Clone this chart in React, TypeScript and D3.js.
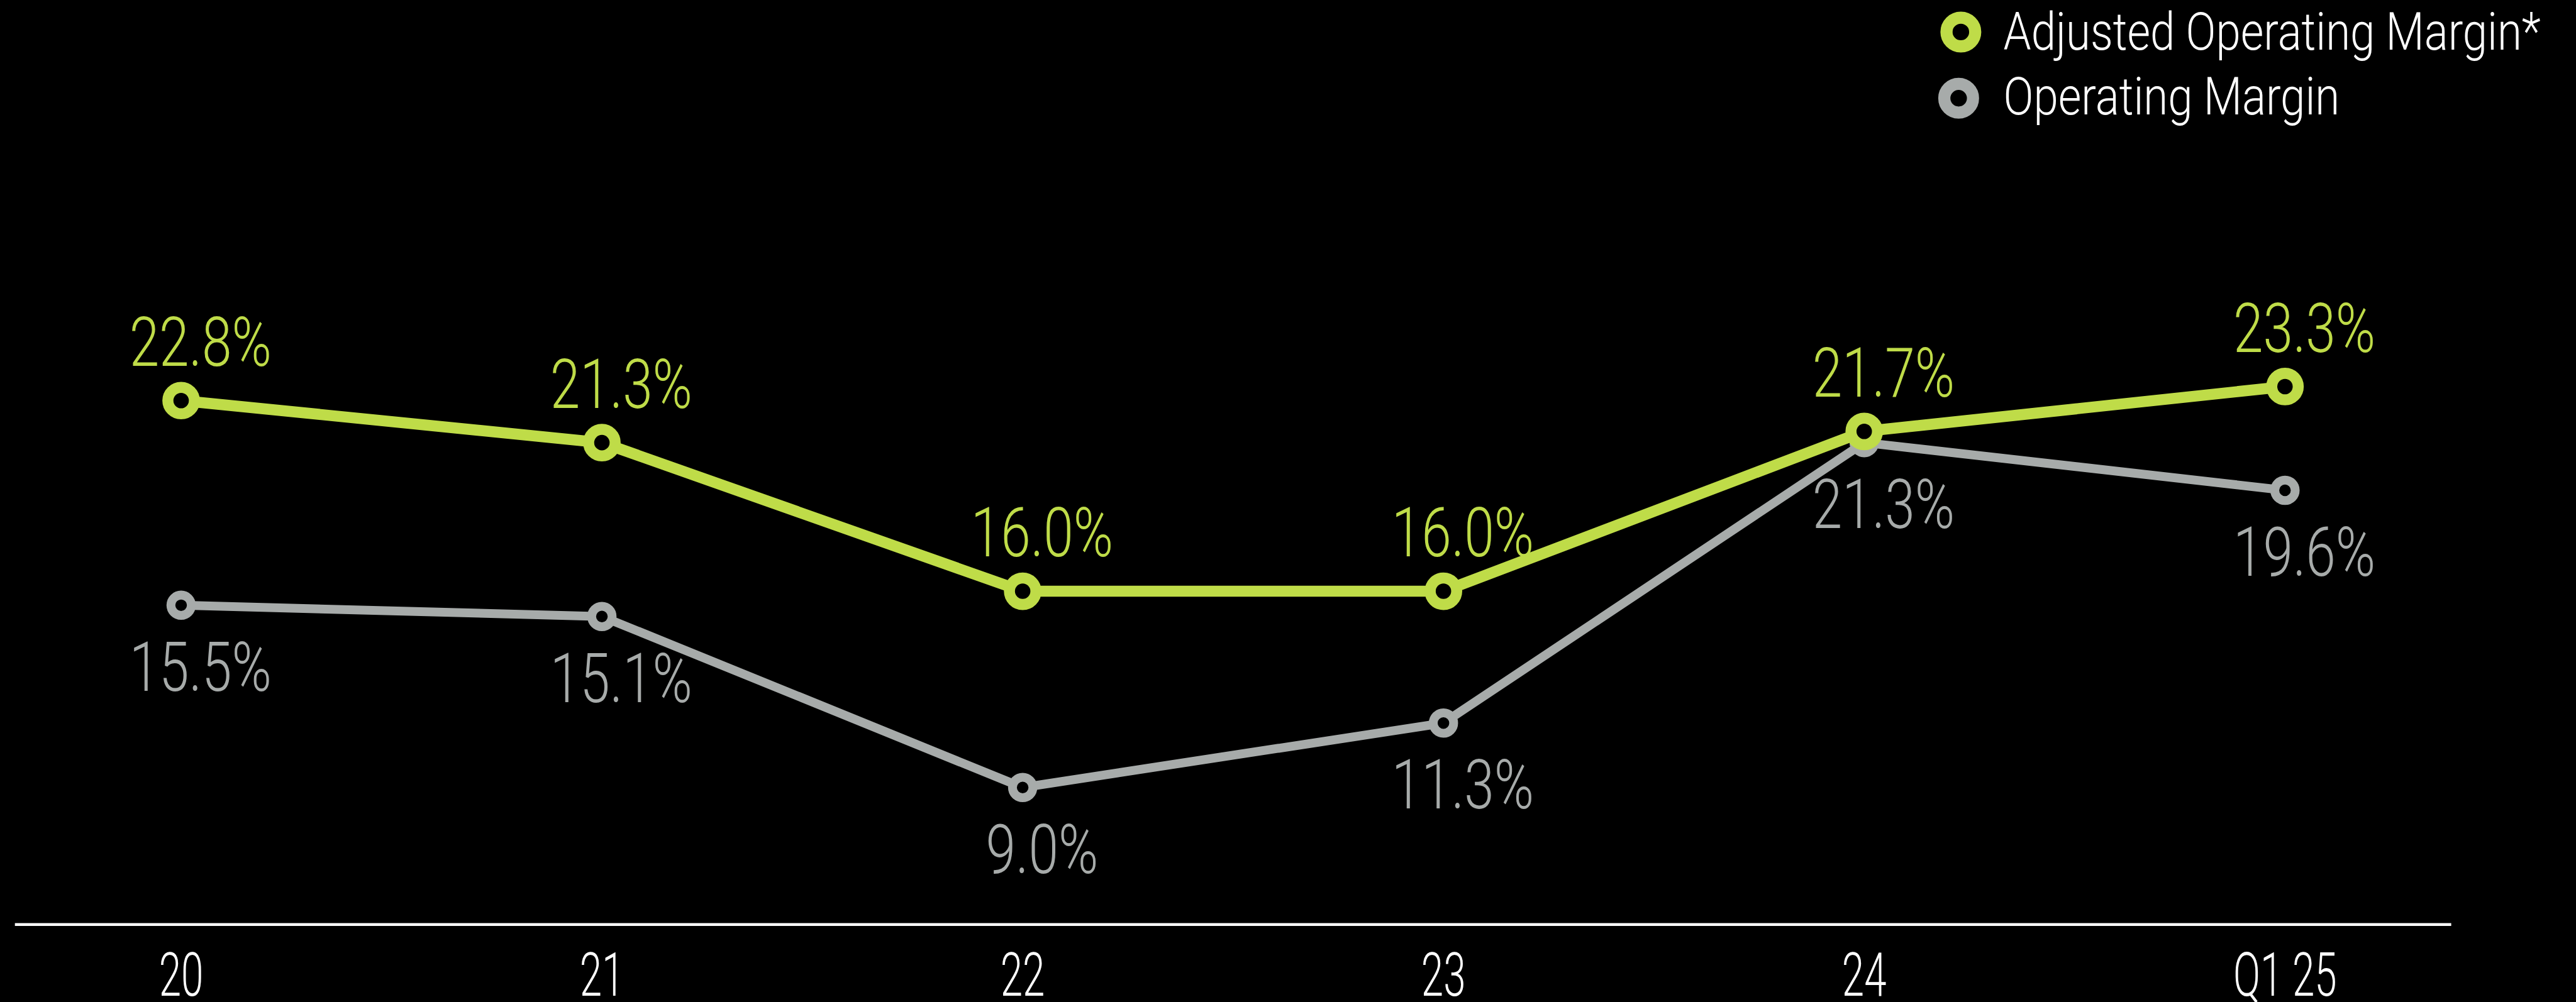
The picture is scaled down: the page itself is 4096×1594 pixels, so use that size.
import React from "react";
import * as d3 from "d3";

const categories = ["20", "21", "22", "23", "24", "Q1 25"];
const adjustedMargin = [22.8, 21.3, 16.0, 16.0, 21.7, 23.3];
const operatingMargin = [15.5, 15.1, 9.0, 11.3, 21.3, 19.6];
const seriesNames = ["Adjusted Operating Margin*", "Operating Margin"];

const GREEN = "#bfdc48";
const GRAY = "#a7abaa";
const S = 4096 / 4665;
const FONT = "Roboto, 'Liberation Sans', sans-serif";

export default function App() {
  const x = d3.scalePoint<string>().domain(categories).range([328, 4138]);
  const y = d3.scaleLinear().domain([0, 25]).range([1884, 1884 - 25 * 50.8]);
  const line = d3
    .line<number>()
    .x((_, i) => x(categories[i]) as number)
    .y((d) => y(d));

  const label = (v: number, i: number, dy: number, color: string, key: string) => (
    <text
      key={key}
      transform={`translate(${(x(categories[i]) as number) + 35},${y(v) + dy}) scale(0.78,1)`}
      textAnchor="middle"
      fontFamily={FONT}
      fontWeight={300}
      fontSize={125}
      fill={color}
    >
      {v.toFixed(1) + "%"}
    </text>
  );

  return (
    <svg
      width={4096}
      height={1594}
      style={{ position: "fixed", left: 0, top: 0, display: "block" }}
    >
      <rect width={4096} height={1594} fill="#000" />
      <g transform={`scale(${S})`}>
        {/* axis line */}
        <line x1={27} x2={4439} y1={1675} y2={1675} stroke="#fff" strokeWidth={5} />
        {categories.map((c) => (
          <text
            key={c}
            transform={`translate(${x(c)},1804) scale(0.66,1)`}
            textAnchor="middle"
            fontFamily={FONT}
            fontWeight={300}
            fontSize={110}
            fill="#fff"
          >
            {c}
          </text>
        ))}

        {/* lines */}
        <path d={line(adjustedMargin) || ""} fill="none" stroke={GREEN} strokeWidth={20} strokeLinejoin="round" />
        <path d={line(operatingMargin) || ""} fill="none" stroke={GRAY} strokeWidth={16} strokeLinejoin="round" />

        {operatingMargin.map((v, i) => (
          <circle key={"g" + i} cx={x(categories[i])} cy={y(v)} r={18.5} fill="#000" stroke={GRAY} strokeWidth={16} />
        ))}
        {adjustedMargin.map((v, i) => (
          <circle key={"a" + i} cx={x(categories[i])} cy={y(v)} r={24} fill="#000" stroke={GREEN} strokeWidth={20} />
        ))}

        {adjustedMargin.map((v, i) => label(v, i, -63, GREEN, "la" + i))}
        {operatingMargin.map((v, i) => label(v, i, 155, GRAY, "lo" + i))}

        {/* legend */}
        <circle cx={3551} cy={58} r={26} fill="#000" stroke={GREEN} strokeWidth={22} />
        <circle cx={3547} cy={178} r={26} fill="#000" stroke={GRAY} strokeWidth={22} />
        <text
          x={3628}
          y={90}
          fontFamily={FONT}
          fontWeight={300}
          fontSize={96}
          fill="#fff"
          textLength={973}
          lengthAdjust="spacingAndGlyphs"
        >
          {seriesNames[0]}
        </text>
        <text
          x={3628}
          y={207}
          fontFamily={FONT}
          fontWeight={300}
          fontSize={96}
          fill="#fff"
          textLength={609}
          lengthAdjust="spacingAndGlyphs"
        >
          {seriesNames[1]}
        </text>
      </g>
    </svg>
  );
}
